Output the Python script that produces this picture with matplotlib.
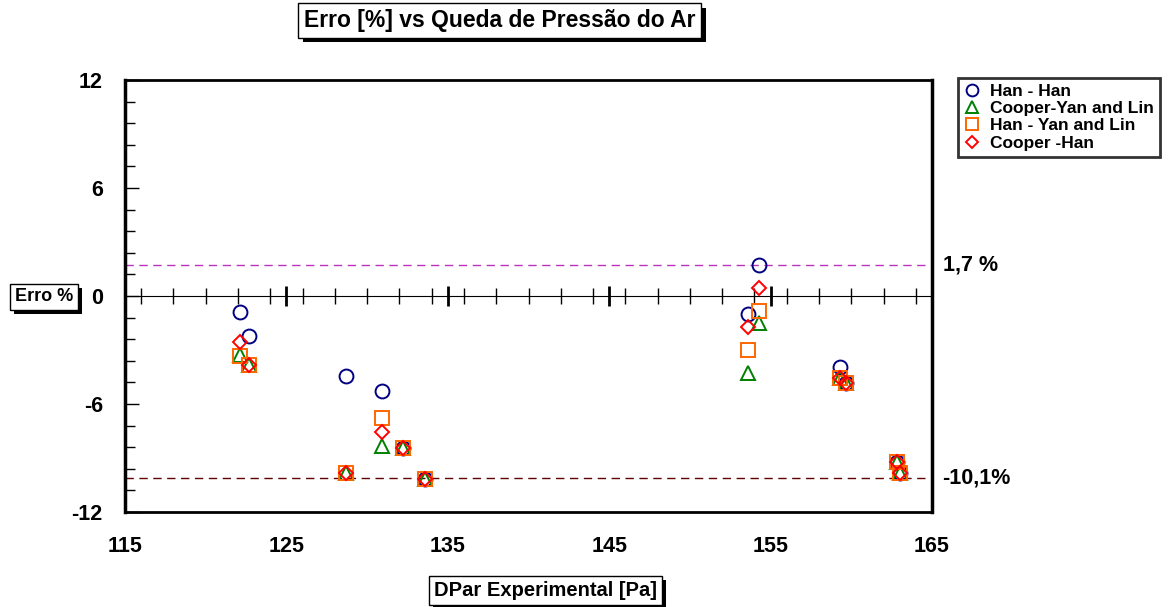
import matplotlib
matplotlib.use('Agg')
import matplotlib.pyplot as plt
import matplotlib.patheffects as pe
import matplotlib.transforms as mtransforms
from matplotlib.ticker import MultipleLocator, NullFormatter

plt.rcParams['font.family'] = ['Liberation Sans', 'DejaVu Sans']
plt.rcParams['font.weight'] = 'bold'
plt.rcParams['axes.unicode_minus'] = False

# DPar experimental [Pa]
dpar = [122.1, 122.7, 128.7, 130.9, 132.2, 133.6, 153.6, 154.3, 159.3, 159.7, 162.8, 163.0]

# erro [%] por correlação
han_han = [-0.9, -2.2, -4.45, -5.25, -8.45, -10.15, -1.0, 1.75, -3.95, -4.85, -9.2, -9.85]
cooper_yan = [-3.3, -3.85, -9.85, -8.35, -8.45, -10.15, -4.3, -1.5, -4.55, -4.85, -9.2, -9.85]
han_yan = [-3.35, -3.85, -9.85, -6.8, -8.45, -10.15, -3.0, -0.85, -4.55, -4.85, -9.2, -9.85]
cooper_han = [-2.55, -3.85, -9.85, -7.55, -8.45, -10.15, -1.7, 0.45, -4.55, -4.85, -9.2, -9.85]

limite_sup = 1.7
limite_inf = -10.1

fig = plt.figure(figsize=(11.75, 6.07), dpi=100)
ax = fig.add_axes([0.1064, 0.1565, 0.6868, 0.7117])

ax.axhline(limite_sup, color='#BB33BB', lw=1.0, dashes=(6, 4), zorder=1)
ax.axhline(limite_inf, color='#600000', lw=1.0, dashes=(6, 4), zorder=1)

ms = 10
ax.plot(dpar, han_han, 'o', ms=ms, mfc='none', mec='#000080', mew=1.4, label='Han - Han', zorder=3)
ax.plot(dpar, cooper_yan, '^', ms=ms, mfc='none', mec='#008000', mew=1.4, label='Cooper-Yan and Lin', zorder=3)
ax.plot(dpar, han_yan, 's', ms=ms, mfc='none', mec='#FF6600', mew=1.4, label='Han - Yan and Lin', zorder=3)
ax.plot(dpar, cooper_han, 'D', ms=7.5, mfc='none', mec='#FF0000', mew=1.4, label='Cooper -Han', zorder=3)

ax.set_xlim(115, 165)
ax.set_ylim(-12, 12)
ax.set_xticks([115, 125, 135, 145, 155, 165])
ax.set_yticks([-12, -6, 0, 6, 12])
ax.yaxis.set_minor_locator(MultipleLocator(1.2))
ax.tick_params(axis='x', length=0, pad=17, labelsize=15.5)
ax.tick_params(axis='y', which='major', direction='in', length=10, width=1, pad=16, labelsize=15.5)
ax.tick_params(axis='y', which='minor', direction='in', length=7, width=1)
ax.tick_params(right=False, top=False)
for s in ax.spines.values():
    s.set_linewidth(2)
ax.spines['left'].set_linewidth(2.5)
ax.spines['right'].set_linewidth(2.5)

# eixo no zero
zero = ax.secondary_xaxis(0.5)
zero.set_xticks([125, 135, 145, 155])
zero.xaxis.set_major_formatter(NullFormatter())
zero.xaxis.set_minor_locator(MultipleLocator(2))
zero.tick_params(which='major', direction='inout', length=15, width=2)
zero.tick_params(which='minor', direction='inout', length=12, width=1)
zero.spines['bottom'].set_linewidth(1.2)

trans = mtransforms.blended_transform_factory(ax.transAxes, ax.transData)
ax.text(1.013, limite_sup, '1,7 %', transform=trans, fontsize=15.5, va='center', ha='left')
ax.text(1.013, limite_inf, '-10,1%', transform=trans, fontsize=15.5, va='center', ha='left')

shadow = [pe.SimplePatchShadow(offset=(3, -3), shadow_rgbFace='black', alpha=1), pe.Normal()]

def caixa(x, y, s, fs):
    t = fig.text(x, y, s, fontsize=fs, ha='center', va='center',
                 bbox=dict(boxstyle='square,pad=0.25', fc='white', ec='black', lw=1))
    t.get_bbox_patch().set_path_effects(shadow)
    return t

caixa(0.4255, 0.966, 'Erro [%] vs Queda de Pressão do Ar', 16.5)
caixa(0.0374, 0.511, 'Erro %', 13)
caixa(0.464, 0.027, 'DPar Experimental [Pa]', 14.5)

leg = fig.legend(loc='upper left', bbox_to_anchor=(0.815, 0.872), fontsize=12.5,
                 frameon=True, fancybox=False, edgecolor='black', handlelength=1.0,
                 handletextpad=0.5, labelspacing=0.12, borderpad=0.35, borderaxespad=0,
                 markerscale=0.85)
leg.get_frame().set_linewidth(2)

fig.savefig('out.png', dpi=100)
